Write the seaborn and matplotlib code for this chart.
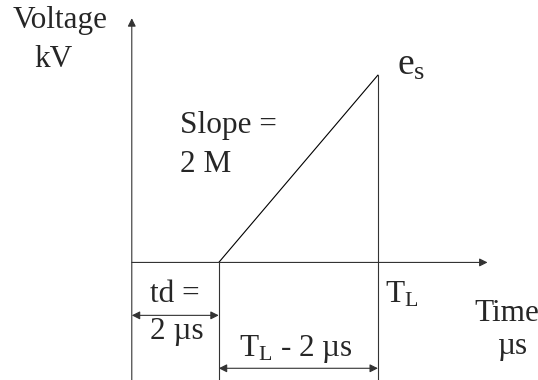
import pandas as pd
import seaborn as sns
import matplotlib.pyplot as plt

# diagram quantities (time in us, voltage in schematic kV units)
td = 2.0
TL = 5.66
es = 4.32
ramp_t = [td, TL]
ramp_v = [0.0, es]

sns.set_style('white')
plt.rcParams['font.family'] = ['Liberation Serif', 'DejaVu Serif']
plt.rcParams['mathtext.fontset'] = 'custom'
plt.rcParams['mathtext.rm'] = 'Liberation Serif'
plt.rcParams['mathtext.it'] = 'Liberation Serif'

fig = plt.figure(figsize=(5.38, 3.80), dpi=100)
ax = fig.add_axes([0, 0, 1, 1])
ax.set_xlim(-3.03, 9.34)
ax.set_ylim(-2.71, 6.05)
ax.axis('off')

lc = '#333333'
lw = 0.8
fs = 22.5

ramp = pd.DataFrame({'t': ramp_t, 'v': ramp_v})
sns.lineplot(data=ramp, x='t', y='v', color='black', lw=lw, ax=ax)

bottom = -2.71
# vertical guide lines
ax.plot([td, td], [0, bottom], color=lc, lw=lw)
ax.plot([TL, TL], [es, bottom], color=lc, lw=lw)

arrow = dict(arrowstyle='-|>', color=lc, lw=lw, shrinkA=0, shrinkB=0, mutation_scale=12)
dbl = dict(arrowstyle='<|-|>', color=lc, lw=lw, shrinkA=0, shrinkB=0, mutation_scale=12)
# axes
ax.annotate('', xy=(0, 5.63), xytext=(0, bottom), arrowprops=arrow)
ax.annotate('', xy=(8.18, 0), xytext=(0, 0), arrowprops=arrow)
# dimension arrows
ax.annotate('', xy=(td, -1.22), xytext=(0, -1.22), arrowprops=dbl)
ax.annotate('', xy=(TL, -2.44), xytext=(td, -2.44), arrowprops=dbl)

ax.text(-1.655, 5.40, 'Voltage', fontsize=fs, ha='center', va='baseline')
ax.text(-1.80, 4.51, 'kV', fontsize=fs, ha='center', va='baseline')
ax.text(1.10, 2.99, 'Slope =', fontsize=fs, va='baseline')
ax.text(1.10, 2.09, '2 M', fontsize=fs, va='baseline')
ax.text(6.09, 4.32, r'$\mathrm{e}_\mathrm{s}$', fontsize=fs * 1.2, va='baseline')
ax.text(0.414, -0.92, 'td =', fontsize=fs, va='baseline')
ax.text(0.414, -1.76, '2 µs', fontsize=fs, va='baseline')
ax.text(5.82, -0.92, r'$\mathrm{T}_\mathrm{L}$', fontsize=fs, va='baseline')
ax.text(2.46, -2.16, r'$\mathrm{T}_\mathrm{L}$ - 2 µs', fontsize=fs, va='baseline')
ax.text(7.88, -1.36, 'Time', fontsize=fs, va='baseline')
ax.text(8.39, -2.11, 'µs', fontsize=fs, va='baseline')

fig.savefig('out.png', dpi=100)
